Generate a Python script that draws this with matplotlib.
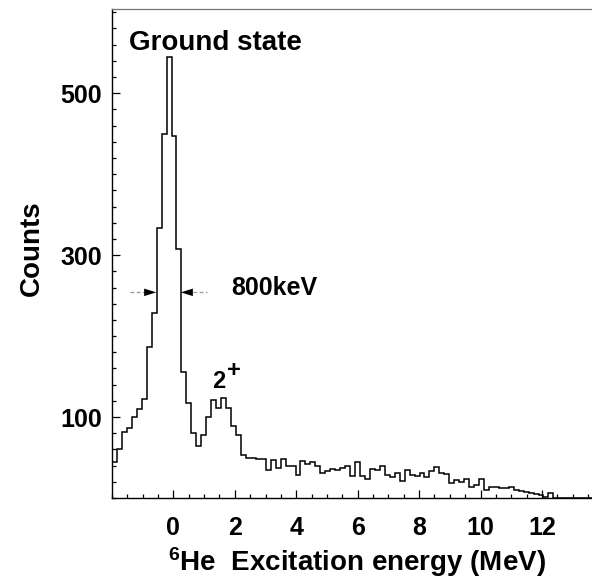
import numpy as np
import matplotlib.pyplot as plt
from matplotlib.ticker import FixedLocator, MultipleLocator

plt.rcParams['font.family'] = ['Liberation Sans', 'DejaVu Sans']
plt.rcParams['font.weight'] = 'bold'
plt.rcParams['mathtext.fontset'] = 'custom'
plt.rcParams['mathtext.rm'] = 'Liberation Sans:bold'
plt.rcParams['mathtext.it'] = 'Liberation Sans:bold'
plt.rcParams['mathtext.bf'] = 'Liberation Sans:bold'

# 6He excitation-energy spectrum (MeV), fixed-width bins starting at -2 MeV
e_low = -2.0
bin_width = 0.1615
counts = [45, 60, 82, 86, 100, 110, 122, 187, 229, 333,
          450, 545, 447, 307, 156, 117, 80, 64, 78, 100,
          121, 111, 123, 111, 89, 78, 53, 50, 49, 48,
          48, 35, 47, 37, 48, 40, 40, 28, 46, 42,
          44, 40, 31, 33, 36, 35, 37, 39, 27, 44,
          27, 24, 36, 35, 40, 28, 26, 31, 21, 35,
          28, 27, 31, 26, 33, 38, 31, 30, 18, 22,
          20, 24, 14, 16, 24, 10, 14, 13, 12, 12,
          14, 10, 9, 8, 6, 5, 4, 1, 6, 0,
          0, 0, 0, 0, 0, 0, 0]
edges = e_low + bin_width * np.arange(len(counts) + 1)

x_ticks = [0, 2, 4, 6, 8, 10, 12]
y_ticks = [100, 300, 500]

# ground-state width marker
gs_center = -0.16
fwhm_kev = 800
half_level = 254

fig = plt.figure(figsize=(5.92, 5.82), dpi=100)
ax = fig.add_axes([112 / 592, 84 / 582, 480 / 592, 489 / 582])

ax.stairs(counts, edges, color='black', lw=1.1)

ax.set_xlim(-2.0, 13.63)
ax.set_ylim(0, 604)

ax.xaxis.set_major_locator(FixedLocator(x_ticks))
ax.xaxis.set_minor_locator(MultipleLocator(0.5))
ax.yaxis.set_major_locator(FixedLocator(y_ticks))
ax.yaxis.set_minor_locator(MultipleLocator(20))
ax.tick_params(which='both', direction='in', width=0.9, colors='black')
ax.tick_params(which='major', length=5.5)
ax.tick_params(which='minor', length=3)
ax.tick_params(axis='x', which='major', labelsize=18, pad=13)
ax.tick_params(axis='y', which='major', labelsize=18, pad=7)
for lab in ax.get_xticklabels() + ax.get_yticklabels():
    lab.set_fontweight('bold')

ax.spines['right'].set_visible(False)
ax.spines['top'].set_color('0.45')
ax.spines['top'].set_linewidth(0.9)
ax.spines['left'].set_linewidth(1.0)
ax.spines['bottom'].set_linewidth(1.0)

ax.set_ylabel('Counts', fontsize=20, fontweight='bold')
ax.yaxis.set_label_coords(-0.14, 0.51)
ax.set_xlabel(r'$^{6}$He  Excitation energy (MeV)', fontsize=20, fontweight='bold')
ax.xaxis.set_label_coords(0.51, -0.097)

# FWHM arrows
half_w = fwhm_kev / 1000 / 2
left_tip = gs_center - half_w
right_tip = gs_center + half_w
head = 0.39
tail = 0.46
ax.plot([left_tip - head - tail, left_tip - head], [half_level] * 2,
        color='0.6', lw=0.9, ls=(0, (3, 2)))
ax.plot([right_tip + head, right_tip + head + tail], [half_level] * 2,
        color='0.6', lw=0.9, ls=(0, (3, 2)))
for tip, base in [(left_tip, left_tip - head), (right_tip, right_tip + head)]:
    ax.annotate('', xy=(tip, half_level), xytext=(base, half_level),
                arrowprops=dict(arrowstyle='-|>,head_length=0.29,head_width=0.09',
                                mutation_scale=30, color='black', lw=0,
                                shrinkA=0, shrinkB=0))

ax.text(1.89, 260, '800keV', fontsize=18, fontweight='bold', va='center', ha='left')
ax.text(-1.46, 553, 'Ground state', fontsize=20, fontweight='bold', va='baseline', ha='left')
ax.text(1.46, 136, '2', fontsize=17, fontweight='bold', va='baseline', ha='center')
ax.text(1.98, 157, '+', fontsize=17, fontweight='bold', va='center', ha='center')

fig.savefig('out.png', dpi=100)
